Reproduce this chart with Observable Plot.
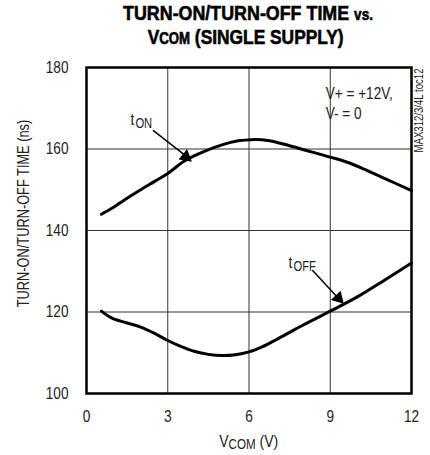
<!DOCTYPE html>
<html>
<head>
<meta charset="utf-8">
<script src="https://cdn.jsdelivr.net/npm/d3@7"></script>
<script src="https://cdn.jsdelivr.net/npm/@observablehq/plot@0.6"></script>
<style>
  body { margin: 0; background: #fff; }
  #wrap { position: relative; width: 430px; height: 455px; font-family: "Liberation Sans", Arial, sans-serif; }
  .tline { position: absolute; left: 0; width: 430px; text-align: center; white-space: nowrap; }
  .tline span.in { display: inline-block; transform-origin: center; }
  #t1 { top: 1px; font-weight: bold; font-size: 21px; color: #000; -webkit-text-stroke: 0.6px #000; }
  #t2 { top: 25px; font-weight: bold; font-size: 21px; color: #000; -webkit-text-stroke: 0.6px #000; }
  .sm { font-size: 16px; }
  #xl { top: 432px; font-size: 17px; color: #222; }
  #xl .sub { font-size: 14px; position: relative; top: 2px; }
</style>
</head>
<body>
<div id="wrap">
  <div class="tline" id="t1" style="left:33px"><span class="in" data-w="250">TURN-ON/TURN-OFF TIME <span class="sm">vs.</span></span></div>
  <div class="tline" id="t2" style="left:31px"><span class="in" data-w="196">V<span class="sm">COM</span> (SINGLE SUPPLY)</span></div>
  <div class="tline" id="xl" style="left:34px"><span class="in" data-w="59">V<span class="sub">COM</span> (V)</span></div>
</div>
<script>
// tON curve
const vcomOn = [0.55, 1.0, 1.4, 2.0, 2.5, 3.0, 3.6, 4.2, 5.0, 5.6, 6.1, 6.7, 7.5, 8.3, 9.0, 9.6, 10.2, 11.0, 12.0];
const tOn    = [144, 145.7, 147.5, 150, 152, 154, 157, 159, 161, 162, 162.3, 162.1, 160.8, 159.3, 158, 156.8, 155.2, 152.8, 149.8];
// tOFF curve
const vcomOff = [0.55, 0.8, 1.0, 1.5, 2.0, 2.5, 3.0, 3.5, 4.0, 4.5, 5.0, 5.5, 6.0, 6.5, 7.0, 7.5, 8.0, 8.5, 9.0, 10.0, 11.0, 12.0];
const tOff    = [120.2, 119, 118.3, 117.3, 116.3, 114.8, 113, 111.5, 110.3, 109.6, 109.3, 109.5, 110.2, 111.5, 113.2, 115, 116.8, 118.5, 120.2, 123.7, 127.8, 132];

const xTicks = [0, 3, 6, 9, 12];
const yTicks = [100, 120, 140, 160, 180];
const xGrid = [3, 6, 9];
const yGrid = [120, 140, 160];

// annotations
const arrows = [
  {x1: 2.47, y1: 164.5, x2: 3.75, y2: 157.9, hx: 3.667, hy: 158.1, rot: 129},
  {x1: 8.35, y1: 130.2, x2: 9.35, y2: 123.0, hx: 9.30, hy: 123.4, rot: 137}
];
const labels = [
  {x: 1.62, y: 165.8, base: "t", sub: "ON"},
  {x: 7.46, y: 130.9, base: "t", sub: "OFF"}
];
const condText = [
  {x: 8.83, y: 173.6, text: "V+ = +12V,"},
  {x: 8.83, y: 168.8, text: "V- = 0"}
];

const onData = vcomOn.map((v, i) => ({v, t: tOn[i]}));
const offData = vcomOff.map((v, i) => ({v, t: tOff[i]}));

const font = '"Liberation Sans", Arial, sans-serif';

const chart = Plot.plot({
  width: 430,
  height: 455,
  marginLeft: 86,
  marginRight: 19,
  marginTop: 67,
  marginBottom: 62,
  style: {fontFamily: font, fontSize: "17px", color: "#222", background: "white"},
  x: {domain: [0, 12], ticks: xTicks, tickSize: 0, tickPadding: 16, label: null},
  y: {domain: [100, 180], ticks: yTicks, tickSize: 0, tickPadding: 18, label: null},
  marks: [
    Plot.ruleX(xGrid, {stroke: "#333", strokeWidth: 1}),
    Plot.ruleY(yGrid, {stroke: "#333", strokeWidth: 1}),
    Plot.line(onData, {x: "v", y: "t", stroke: "#000", strokeWidth: 3, curve: "catmull-rom"}),
    Plot.line(offData, {x: "v", y: "t", stroke: "#000", strokeWidth: 3, curve: "catmull-rom"}),
    Plot.arrow(arrows, {x1: "x1", y1: "y1", x2: "x2", y2: "y2", stroke: "#000", strokeWidth: 1.5, headLength: 0}),
    Plot.dot(arrows, {x: "hx", y: "hy", symbol: "triangle", r: 5, fill: "#000", stroke: "none", rotate: "rot"}),
    Plot.text(labels, {x: "x", y: "y", text: "base", textAnchor: "start", lineAnchor: "bottom", fontSize: 17, fill: "#222"}),
    Plot.text(labels, {x: "x", y: "y", text: "sub", textAnchor: "start", lineAnchor: "bottom", fontSize: 14, dx: 5, dy: 3, fill: "#222"}),
    Plot.text(condText, {x: "x", y: "y", text: "text", textAnchor: "start", fontSize: 17, fill: "#222"}),
    Plot.text(["TURN-ON/TURN-OFF TIME (ns)"], {frameAnchor: "left", rotate: -90, dx: -63, dy: -17, textAnchor: "middle", fontSize: 16, fill: "#222"}),
    Plot.text(["MAX312/3/4L toc12"], {frameAnchor: "top-right", rotate: -90, dx: 8, dy: 1, textAnchor: "end", lineAnchor: "middle", fontSize: 12, fill: "#222"}),
    Plot.frame({stroke: "#000", strokeWidth: 2.5})
  ]
});
const wrap = document.getElementById("wrap");
wrap.prepend(chart);
chart.style.position = "absolute";
chart.style.left = "0";
chart.style.top = "0";

// condense SVG text horizontally (reference uses a condensed face)
chart.querySelectorAll("text").forEach(t => {
  const w = t.getComputedTextLength();
  if (w > 0) {
    t.setAttribute("textLength", (w * 0.8).toFixed(1));
    t.setAttribute("lengthAdjust", "spacingAndGlyphs");
  }
});
// condense HTML title lines to target widths
document.querySelectorAll(".tline span.in").forEach(s => {
  const target = +s.dataset.w;
  const w = s.getBoundingClientRect().width;
  s.style.transform = `scaleX(${(target / w).toFixed(3)})`;
});
</script>
</body>
</html>
